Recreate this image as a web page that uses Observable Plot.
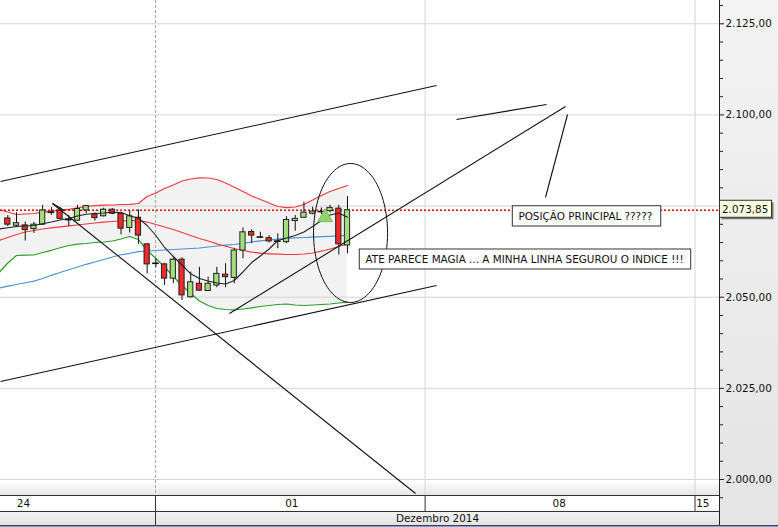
<!DOCTYPE html>
<html><head><meta charset="utf-8">
<script src="https://cdn.jsdelivr.net/npm/d3@7"></script>
<script src="https://cdn.jsdelivr.net/npm/@observablehq/plot@0.6"></script>
<style>
html,body{margin:0;padding:0;background:#fff;}
#chart{width:778px;height:527px;overflow:hidden;}
</style></head><body><div id="chart"></div>
<script>
// ---- candles (hourly bars, index 0..39)
const candleIdx = [0,1,2,3,4,5,6,7,8,9,10,11,12,13,14,15,16,17,18,19,20,21,22,23,24,25,26,27,28,29,30,31,32,33,34,35,36,37,38,39];
const open  = [2071.6,2069.6,2069.7,2068.7,2069.9,2073.3,2073.8,2071.3,2071.0,2073.8,2072.7,2072.2,2074.0,2072.9,2069.0,2071.8,2064.5,2059.3,2059.0,2055.1,2060.3,2050.0,2053.7,2051.7,2053.2,2056.2,2055.3,2062.8,2067.9,2066.5,2066.2,2065.4,2065.1,2070.9,2071.8,2072.9,2073.5,2073.6,2074.3,2064.2];
const high  = [2072.4,2073.2,2070.6,2070.5,2075.2,2074.6,2074.6,2072.4,2075.2,2075.2,2073.1,2074.4,2074.3,2073.3,2073.8,2074.0,2064.7,2060.5,2059.3,2060.8,2060.8,2056.9,2058.2,2055.5,2058.2,2059.2,2063.3,2069.0,2068.5,2067.8,2066.9,2067.4,2072.1,2072.4,2076.1,2074.7,2074.5,2075.2,2075.2,2077.6];
const low   = [2069.4,2069.1,2065.4,2067.5,2069.7,2072.4,2071.3,2069.4,2070.8,2072.9,2070.9,2072.0,2072.6,2067.1,2067.6,2064.5,2056.4,2058.1,2053.2,2053.7,2049.1,2049.8,2051.6,2051.6,2052.6,2052.6,2053.7,2060.5,2064.7,2066.3,2064.9,2063.3,2064.7,2068.1,2071.7,2072.6,2072.7,2073.1,2061.6,2061.9];
const close = [2069.9,2070.3,2068.4,2069.9,2073.8,2073.3,2071.5,2071.3,2074.2,2075.0,2071.7,2074.0,2072.9,2068.8,2072.2,2066.9,2059.0,2059.3,2055.1,2060.3,2050.5,2054.1,2051.8,2053.7,2056.4,2055.5,2062.8,2067.8,2066.9,2066.5,2065.3,2065.4,2071.2,2071.5,2073.2,2073.5,2073.5,2074.5,2064.5,2073.85];

// ---- indicator lines (index -1..39)
const lineIdx = [-1,0,1,2,3,4,5,6,7,8,9,10,11,12,13,14,15,16,17,18,19,20,21,22,23,24,25,26,27,28,29,30,31,32,33,34,35,36,37,38,39];
const bandUpper = [2074.06,2073.38,2072.69,2072.83,2072.96,2073.32,2073.60,2073.84,2074.12,2074.53,2074.88,2075.10,2075.24,2075.30,2075.43,2075.49,2075.71,2077.63,2078.59,2079.82,2080.78,2081.88,2082.43,2082.76,2082.70,2082.29,2081.33,2080.18,2079.00,2077.76,2076.80,2075.84,2074.88,2074.55,2074.75,2075.43,2076.67,2077.90,2079.00,2079.82,2080.65];
const bandMiddle = [2065.56,2066.38,2067.20,2067.89,2068.30,2068.71,2069.04,2069.31,2069.59,2069.81,2070.08,2070.36,2070.58,2070.77,2070.91,2070.99,2070.99,2070.63,2069.95,2069.26,2068.58,2067.75,2066.93,2066.11,2065.42,2064.65,2063.99,2063.36,2062.82,2062.35,2062.07,2061.91,2061.80,2061.72,2061.72,2061.86,2062.13,2062.62,2063.23,2063.91,2064.65];
const bandLower = [2056.78,2059.38,2061.44,2061.53,2061.58,2062.27,2062.87,2063.56,2064.19,2064.54,2064.74,2065.01,2065.15,2065.42,2065.97,2066.66,2065.83,2062.82,2060.62,2058.29,2055.68,2053.22,2051.02,2048.96,2047.73,2046.90,2046.63,2046.55,2046.77,2047.10,2047.45,2047.73,2048.00,2048.14,2047.87,2047.73,2047.87,2048.00,2048.14,2048.41,2048.63];
const maLong = [2052.53,2053.02,2053.49,2053.96,2054.42,2055.13,2056.01,2056.78,2057.52,2058.29,2059.03,2059.66,2060.35,2061.03,2061.64,2062.05,2062.52,2062.68,2062.82,2062.95,2063.09,2063.23,2063.37,2063.50,2063.78,2064.05,2064.27,2064.46,2064.79,2065.15,2065.48,2065.70,2065.91,2066.16,2066.30,2066.38,2066.49,2066.60,2066.71,2066.82,2066.93];
const maShort = [2068.71,2069.04,2069.40,2069.54,2069.67,2070.14,2070.63,2071.18,2071.59,2072.28,2072.75,2072.97,2073.10,2073.32,2073.24,2072.33,2071.68,2069.67,2066.93,2063.64,2061.17,2058.84,2056.42,2055.13,2054.45,2053.90,2053.63,2054.59,2056.92,2059.52,2061.31,2063.23,2065.56,2066.24,2066.93,2067.89,2069.40,2071.04,2072.55,2073.10,2071.95];

const lastPrice = 2073.85;

// ---- axis ticks
const gridTicks = [2000,2025,2050,2075,2100,2125];
const labelTicks = [2000,2025,2050,2100,2125];
const minorTicks = [1995,2005,2010,2015,2020,2030,2035,2040,2045,2055,2060,2065,2070,2075,2080,2085,2090,2095,2105,2110,2115,2120,2130];

// ---- time axis (week boundaries in bar-index units)
const weekBounds = [16.96, 47.91, 78.9];
const weekLabels = ["24","01","08","15"];
const weekLabelPos = [1.8, 32.6, 63.3, 79.8];
const monthLabel = "Dezembro 2014";
const monthLabelPos = 49.33;

// ---- drawn annotations
const segX1 = [-0.838, -0.838, 5.13, 5.13, 25.45, 51.52, 61.73];
const segY1 = [2081.74, 2026.88, 2075.71, 2075.71, 2045.53, 2098.75, 2077.35];
const segX2 = [49.22, 49.22, 46.81, 6.5, 64.03, 61.85, 64.26];
const segY2 = [2108.07, 2053.22, 1996.16, 2073.8, 2102.31, 2102.86, 2100.12];

const ellipseCenter = [39.35, 2067.62];
const ellipseRadius = [4.25, 19.06];

const signalTriangle = [36.44, 2071.9];

const noteTexts = ["POSIÇÃO PRINCIPAL ?????", "ATE PARECE MAGIA ... A MINHA LINHA SEGUROU O INDICE !!!"];
const noteX1 = [57.98, 40.41];
const noteX2 = [75.02, 78.46];
const noteYTop = [2074.96, 2063.09];
const noteYBot = [2069.40, 2057.6];
const noteTextX = [58.62, 41.07];
const noteTextY = [2072.18, 2060.35];

// ---- build tables
const candles = candleIdx.map((i,k) => ({i, open: open[k], high: high[k], low: low[k], close: close[k]}));
const bodies = candles.filter(d => d.open !== d.close);
const dojis = candles.filter(d => d.open === d.close);
const lines = lineIdx.map((i,k) => ({i, up: bandUpper[k], mid: bandMiddle[k], lo: bandLower[k], ml: maLong[k], ms: maShort[k]}));
const segs = segX1.map((x,k) => ({x1: x, y1: segY1[k], x2: segX2[k], y2: segY2[k]}));
const ellipse = d3.range(0, 360, 4).map(a => ({x: ellipseCenter[0] + ellipseRadius[0]*Math.cos(a*Math.PI/180), y: ellipseCenter[1] + ellipseRadius[1]*Math.sin(a*Math.PI/180)}));
const notes = noteTexts.map((t,k) => ({t, x1: noteX1[k], x2: noteX2[k], y1: noteYTop[k], y2: noteYBot[k], tx: noteTextX[k], ty: noteTextY[k]}));
const weeks = weekLabels.map((l,k) => ({l, i: weekLabelPos[k]}));

const loc = d3.formatLocale({decimal: ",", thousands: ".", grouping: [3], currency: ["",""]});
const fmt = loc.format(",.2f");

const X_MIN = -0.838, X_MAX = 81.71;
const FONT = "DejaVu Sans";

const plot = Plot.plot({
  width: 778, height: 527,
  marginLeft: 0, marginRight: 59, marginTop: 0, marginBottom: 32,
  style: {fontFamily: FONT, fontSize: "10.4px", background: "transparent", color: "#111"},
  x: {domain: [X_MIN, X_MAX], axis: null},
  y: {domain: [1995.61, 2131.39], axis: null},
  marks: [
    Plot.areaY(lines, {x: "i", y1: "lo", y2: "up", fill: "#f2f2f2", clip: true}),
    Plot.ruleY(gridTicks, {stroke: "#d4d4d4"}),
    Plot.ruleX([weekBounds[0]], {stroke: "#a8a8a8", strokeDasharray: "3,2"}),
    Plot.ruleX(weekBounds.slice(1), {stroke: "#d4d4d4"}),
    Plot.line(lines, {x: "i", y: "ml", stroke: "#4a93d8", strokeWidth: 1.2, clip: true}),
    Plot.line(lines, {x: "i", y: "lo", stroke: "#2b9a2b", strokeWidth: 1.2, clip: true}),
    Plot.line(lines, {x: "i", y: "mid", stroke: "#f23c3c", strokeWidth: 1.2, clip: true}),
    Plot.line(lines, {x: "i", y: "up", stroke: "#f23c3c", strokeWidth: 1.2, clip: true}),
    Plot.ruleY([lastPrice], {stroke: "#e00000", strokeDasharray: "2,2", strokeWidth: 1.3}),
    Plot.ruleX(candles, {x: "i", y1: "low", y2: "high", stroke: "#111"}),
    Plot.rect(bodies, {x1: d => d.i - 0.3, x2: d => d.i + 0.3, y1: "open", y2: "close",
      fill: d => d.close > d.open ? "#a3de7c" : "#ee2a2a", stroke: "#222", strokeWidth: 1}),
    Plot.ruleY(dojis, {x1: d => d.i - 0.38, x2: d => d.i + 0.38, y: "open", stroke: "#111", strokeWidth: 1.6}),
    Plot.line(lines, {x: "i", y: "ms", stroke: "#222", strokeWidth: 1.1, clip: true}),
    Plot.dot([signalTriangle], {x: d => d[0], y: d => d[1], symbol: "triangle", r: 5.5, fill: "#8ed466", stroke: "#6cb84a", strokeWidth: 0.8}),
    Plot.link(segs, {x1: "x1", y1: "y1", x2: "x2", y2: "y2", stroke: "#111", strokeWidth: 1.1, clip: true}),
    Plot.line(ellipse, {x: "x", y: "y", curve: "linear-closed", stroke: "#111", strokeWidth: 1}),
    Plot.rect(notes, {x1: "x1", x2: "x2", y1: "y1", y2: "y2", fill: "white", stroke: "#333", strokeWidth: 1}),
    Plot.text(notes, {x: "tx", y: "ty", text: "t", textAnchor: "start", fill: "#111"}),
    Plot.axisY({anchor: "right", ticks: labelTicks, tickFormat: fmt, tickSize: 4, tickPadding: 2, label: null, stroke: "#222", fill: "#111"}),
    Plot.axisY({anchor: "right", ticks: minorTicks, tickFormat: () => "", tickSize: 3, label: null, stroke: "#222"}),
    Plot.ruleX([X_MAX], {stroke: "#222", insetBottom: -31}),
    Plot.ruleX(weekBounds, {stroke: "#333", insetTop: 495, insetBottom: -16}),
    Plot.ruleX([weekBounds[0]], {stroke: "#333", insetTop: 511, insetBottom: -30}),
    Plot.text(weeks, {x: "i", text: "l", frameAnchor: "bottom", lineAnchor: "middle", dy: 8, fill: "#111"}),
    Plot.text([monthLabel], {x: monthLabelPos, text: d => d, frameAnchor: "bottom", lineAnchor: "middle", dy: 23, fill: "#111"})
  ]
});

const svg = d3.select(plot);
const xs = plot.scale("x"), ys = plot.scale("y");
const defs = svg.insert("defs", ":first-child");
const g1 = defs.append("linearGradient").attr("id","gPanel").attr("x1",0).attr("y1",0).attr("x2",0).attr("y2",1);
g1.append("stop").attr("offset","0%").attr("stop-color","#f3f3f3");
g1.append("stop").attr("offset","100%").attr("stop-color","#e4e4e4");
const g2 = defs.append("linearGradient").attr("id","gBot").attr("x1",0).attr("y1",0).attr("x2",0).attr("y2",1);
g2.append("stop").attr("offset","0%").attr("stop-color","#ffffff");
g2.append("stop").attr("offset","100%").attr("stop-color","#e6e6e6");
const g3 = defs.append("linearGradient").attr("id","gMonth").attr("x1",0).attr("y1",0).attr("x2",0).attr("y2",1);
g3.append("stop").attr("offset","0%").attr("stop-color","#f4f4f4");
g3.append("stop").attr("offset","100%").attr("stop-color","#e2e2e2");

const bg = svg.insert("g", "defs + *");
bg.append("rect").attr("x",0).attr("y",0).attr("width",778).attr("height",527).attr("fill","#fff");
bg.append("rect").attr("x",719).attr("y",0).attr("width",59).attr("height",527).attr("fill","url(#gPanel)");
bg.append("rect").attr("x",0).attr("y",481).attr("width",719).attr("height",14).attr("fill","url(#gBot)");
bg.append("rect").attr("x",0).attr("y",511).attr("width",719).attr("height",14).attr("fill","url(#gMonth)");

const fg = svg.append("g");
[[495.5,0,719,"#333"],[511.5,0,719,"#333"],[525.5,0,778,"#444"],[526.5,0,778,"#6aa8e0"]].forEach(([y,x1,x2,c]) =>
  fg.append("line").attr("x1",x1).attr("x2",x2).attr("y1",y).attr("y2",y).attr("stroke",c));
// last-price label on the axis
const py = ys.apply(lastPrice);
const lx = xs.apply(X_MAX);
fg.append("rect").attr("x",lx+2.5).attr("y",py-7.5).attr("width",52).attr("height",17).attr("fill","#777");
fg.append("rect").attr("x",lx+0.5).attr("y",py-9.5).attr("width",52).attr("height",17).attr("fill","#ffffe1").attr("stroke","#333");
fg.append("text").attr("x",lx+3).attr("y",py).attr("dy","0.35em").attr("text-anchor","start").attr("font-family",FONT).attr("font-size","10.4px").attr("fill","#111").text(fmt(lastPrice));

document.getElementById("chart").appendChild(plot);
</script></body></html>
